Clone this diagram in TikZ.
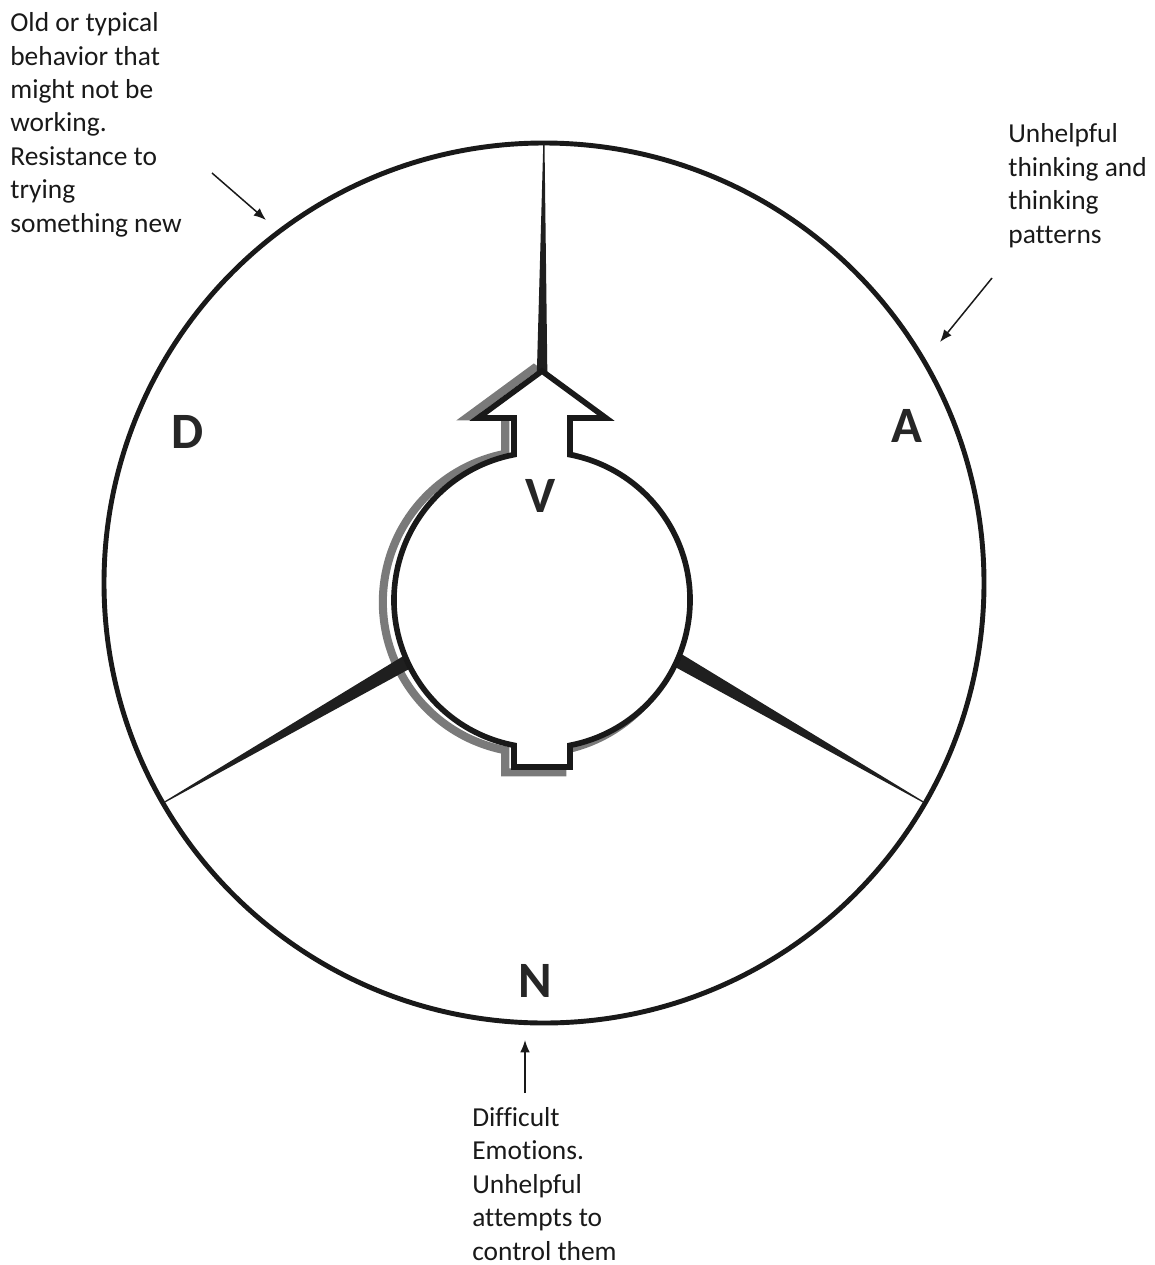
\documentclass[tikz,border=0pt]{standalone}
\usepackage{fontspec}
\setmainfont{Carlito}[Ligatures=CommonOff]
\usetikzlibrary{arrows.meta,calc}
\begin{document}
\begin{tikzpicture}[x=0.02cm,y=-0.02cm,
  notetext/.style={align=left, inner sep=0pt, font=\fontsize{15.6}{19}\selectfont, text=black!90, anchor=base west},
  bigletter/.style={font=\fontsize{29}{34}\selectfont\bfseries, text=black!85, inner sep=0pt, anchor=base},
  outerring/.style={line width=2.8pt, draw=black!90},
  spokewedge/.style={fill=black!88, draw=none},
  bodyline/.style={line width=3.2pt, draw=black!90, fill=white, line join=miter},
  bodyshadow/.style={line width=4.6pt, draw=black!52},
  pointerarrow/.style={line width=0.85pt, draw=black!90, -{Latex[length=7pt,width=5.5pt]}},
]
\useasboundingbox (0,0) rectangle (1155,1265);
\coordinate (O) at (544,583);
\coordinate (C) at (542,600);
\def\InnerShape{(570,454.7) arc[start angle=-79.1, end angle=79.1, radius=148] -- (570,767) -- (514,767) -- (514,745.3) arc[start angle=100.9, end angle=259.1, radius=148] -- (514,418) -- (478,418) -- (542,371) -- (606,418) -- (570,418) -- cycle}
% outer circle
\draw[outerring] (O) circle[radius=440];
% shadow of the inner body
\begin{scope}[shift={(-8,2)}, scale around={1.02:(C)}]
  \draw[bodyshadow] \InnerShape;
\end{scope}
% spokes
\fill[spokewedge] ($(O)+(150:150)+(60:7.3)$) -- ($(O)+(150:438)+(60:0.6)$) -- ($(O)+(150:438)+(240:0.6)$) -- ($(O)+(150:150)+(240:7.3)$) -- cycle;
\fill[spokewedge] ($(O)+(30:150)+(120:7.3)$) -- ($(O)+(30:438)+(120:0.6)$) -- ($(O)+(30:438)+(300:0.6)$) -- ($(O)+(30:150)+(300:7.3)$) -- cycle;
\fill[spokewedge] (536.5,385) -- (543.3,143) -- (544.5,143) -- (547.5,385) -- cycle;
% inner body
\draw[bodyline] \InnerShape;
% letters
\node[bigletter] (D) at (188,448) {D};
\node[bigletter] (A) at (907,442) {A};
\node[bigletter] (V) at (541,512) {V};
\node[bigletter] (N) at (535,997) {N};
% notes (anchor at the baseline of the last line)
\node[notetext] (tl) at (10,232) {Old or typical\\behavior that\\might not be\\working.\\Resistance to\\trying\\something new};
\node[notetext] (tr) at (1008,243) {Unhelpful\\thinking and\\thinking\\patterns};
\node[notetext] (bt) at (472,1260) {Difficult\\Emotions.\\Unhelpful\\attempts to\\control them};
% pointers
\coordinate (tls) at (212,173);
\coordinate (tle) at (266,220);
\coordinate (trs) at (992,278);
\coordinate (tre) at (940,342);
\coordinate (bs) at (525,1093);
\coordinate (be) at (525,1040);
\draw[pointerarrow] (tls) -- (tle);
\draw[pointerarrow] (trs) -- (tre);
\draw[pointerarrow] (bs) -- (be);
\end{tikzpicture}
\end{document}
